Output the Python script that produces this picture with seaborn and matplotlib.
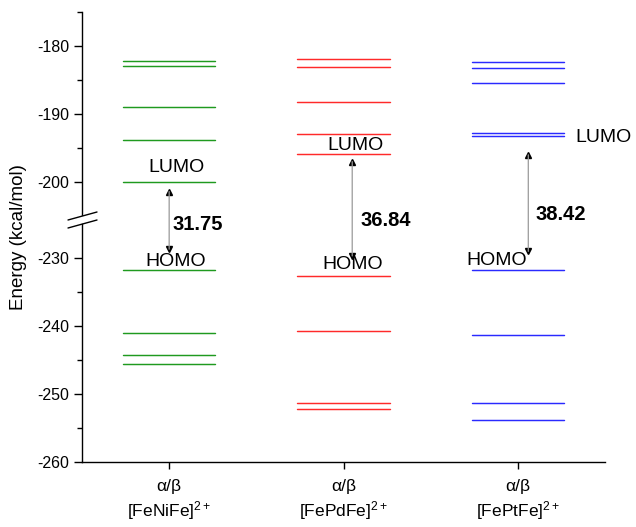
import numpy as np
import pandas as pd
import matplotlib
matplotlib.use("Agg")
import matplotlib.pyplot as plt
from matplotlib.patches import ConnectionPatch, Polygon
from matplotlib.lines import Line2D
import seaborn as sns

# Orbital energies (kcal/mol) for each complex, alpha/beta degenerate
complexes = ["[FeNiFe]", "[FePdFe]", "[FePtFe]"]
charge = "2+"
spin_label = "α/β"
level_colors = ["#1f9a1f", "#ff2a2a", "#2a2aff"]

ni_levels = [-182.2, -182.9, -189.0, -193.8, -200.05, -231.80, -241.0, -244.2, -245.6]
pd_levels = [-181.9, -183.1, -188.2, -192.9, -195.85, -232.69, -240.7, -251.3, -252.2]
pt_levels = [-182.3, -183.3, -185.4, -192.8, -193.30, -231.72, -241.3, -251.3, -253.8]
lumo = [-200.05, -195.85, -193.30]
homo = [-231.80, -232.69, -231.72]

upper_ticks = [-180, -190, -200]
lower_ticks = [-230, -240, -250, -260]

all_levels = [ni_levels, pd_levels, pt_levels]
half_w = 0.265

rows = []
for ci, (name, lv) in enumerate(zip(complexes, all_levels)):
    for li, e in enumerate(lv):
        for side in (-1, 1):
            rows.append({"complex": name, "level": f"{name}-{li}",
                         "x": ci + 1 + side * half_w, "energy": e})
df = pd.DataFrame(rows)

sns.set_theme(style="ticks")
plt.rcParams["font.family"] = ["Liberation Sans", "DejaVu Sans"]
plt.rcParams["mathtext.fontset"] = "custom"
plt.rcParams["mathtext.rm"] = "Liberation Sans"
plt.rcParams["mathtext.it"] = "Liberation Sans:italic"
plt.rcParams["mathtext.bf"] = "Liberation Sans:bold"
plt.rcParams["axes.unicode_minus"] = False
plt.rcParams["text.color"] = "black"
plt.rcParams["axes.labelcolor"] = "black"
plt.rcParams["xtick.color"] = "black"
plt.rcParams["ytick.color"] = "black"

W, H = 636, 527
fig = plt.figure(figsize=(W / 100, H / 100), dpi=100)

def fx(px):
    return px / W

def fy(py):
    return 1 - py / H

left, right = 82, 605
ax_top = fig.add_axes([fx(left), fy(216), fx(right - left), fy(12) - fy(216)])
ax_bot = fig.add_axes([fx(left), fy(462), fx(right - left), fy(224) - fy(462)])

for ax in (ax_top, ax_bot):
    sns.lineplot(data=df, x="x", y="energy", hue="complex", units="level",
                 estimator=None, palette=level_colors, hue_order=complexes,
                 lw=1.05, legend=False, ax=ax)
    ax.set_xlim(0.5, 3.5)
    ax.set_xlabel("")
    ax.set_ylabel("")
    for s in ("top", "right"):
        ax.spines[s].set_visible(False)
    for s in ("left", "bottom"):
        ax.spines[s].set_color("black")
        ax.spines[s].set_linewidth(1.0)
    ax.tick_params(axis="y", which="major", direction="out", length=6, width=1,
                   labelsize=11.5, colors="black", pad=3)
    ax.tick_params(axis="y", which="minor", direction="out", length=3.5, width=1, colors="black")
    ax.set_facecolor("none")

ax_top.set_ylim(-205.0, -175)
ax_top.set_yticks(upper_ticks)
ax_top.set_yticks([-175, -185, -195], minor=True)
ax_top.spines["bottom"].set_visible(False)
ax_top.set_xticks([])

ax_bot.set_ylim(-260, -225.0)
ax_bot.set_yticks(lower_ticks)
ax_bot.set_yticks([-235, -245, -255], minor=True)
ax_bot.set_xticks([1, 2, 3])
ax_bot.set_xticklabels([f"{spin_label}\n{c}$^{{{charge}}}$" for c in complexes],
                       fontsize=12.5, linespacing=1.3)
ax_bot.tick_params(axis="x", direction="out", length=5, width=1, pad=7, colors="black")

fig.text(fx(19), fy(237), "Energy (kcal/mol)", rotation=90, ha="center", va="center",
         fontsize=13.5)

# axis break marks
brk_white = Polygon([[fx(70), fy(224)], [fx(96), fy(217)], [fx(96), fy(213)], [fx(70), fy(220)]],
                    closed=True, transform=fig.transFigure, color="white", zorder=5)
fig.patches.append(brk_white)
for dy in (0, 8):
    fig.lines.append(Line2D([fx(68), fx(97)], [fy(220 + dy), fy(212 + dy)],
                            transform=fig.transFigure, color="black", lw=1.0, zorder=6))

# HOMO/LUMO labels
fs = 14
label_cfg = [
    # (lumo x, lumo dy, lumo ha, homo x, homo dy, gap x, gap y)
    (1.04, 2.2, "center", 1.04, 1.35, 1.02, -206.3),
    (2.07, 1.15, "center", 2.05, 1.7, 2.10, -205.6),
    (3.33, -0.2, "left", 2.88, 1.3, 3.10, -204.85),
]
arrow_x = [1.0, 2.05, 3.06]
arrow_top_off = [1.35, 1.15, 2.7]
arrow_bot_off = [3.1, 3.0, 2.7]

for i in range(3):
    lx, ldy, lha, hx, hdy, gx, gy = label_cfg[i]
    ax_top.text(lx, lumo[i] + ldy, "LUMO", ha=lha, va="center", fontsize=fs, clip_on=False)
    ax_bot.text(hx, homo[i] + hdy, "HOMO", ha="center", va="center", fontsize=fs, clip_on=False)
    ax_top.text(gx, gy, f"{lumo[i] - homo[i]:.2f}", ha="left", va="center",
                fontsize=14.5, fontweight="bold", clip_on=False)

    y_top = lumo[i] - arrow_top_off[i]
    y_bot = homo[i] + arrow_bot_off[i]
    con = ConnectionPatch(xyA=(arrow_x[i], y_top), coordsA=ax_top.transData,
                          xyB=(arrow_x[i], y_bot), coordsB=ax_bot.transData,
                          arrowstyle="-", color="#9a9a9a", lw=0.9, zorder=3)
    fig.add_artist(con)
    ax_top.plot([arrow_x[i]], [y_top], marker="^", color="black", ms=4.5, clip_on=False)
    ax_bot.plot([arrow_x[i]], [y_bot], marker="v", color="black", ms=4.5, clip_on=False)

fig.savefig("out.png", dpi=100)
